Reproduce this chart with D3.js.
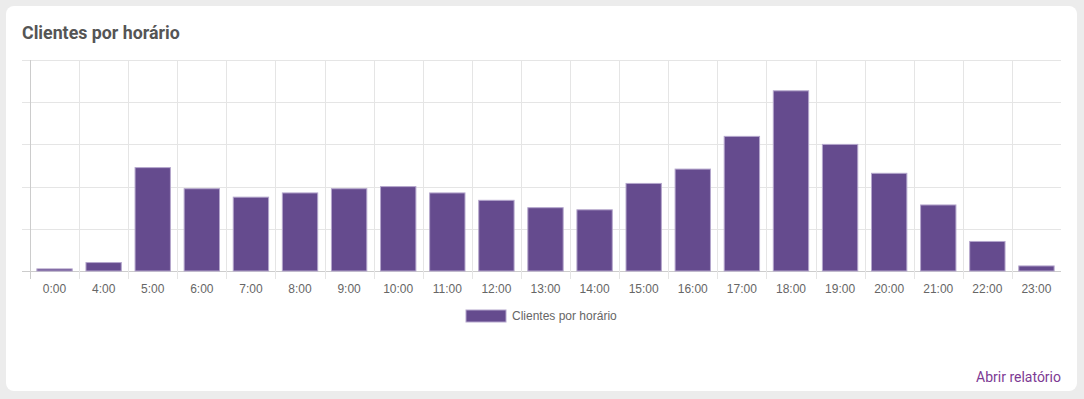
<!doctype html>
<html lang="pt">
<head>
<meta charset="utf-8">
<title>Clientes por horário</title>
<script src="https://cdn.jsdelivr.net/npm/d3@7"></script>
<style>
  html, body { margin: 0; padding: 0; background: #ececec; }
  svg { display: block; font-family: Roboto, "Liberation Sans", Arial, sans-serif; }
  .chart-text { font-family: "Liberation Sans", Arial, Helvetica, sans-serif; }
</style>
</head>
<body>
<svg></svg>
<script>
  var width = 1084;
  var height = 399;

  var hours = ['0:00', '4:00', '5:00', '6:00', '7:00', '8:00', '9:00', '10:00', '11:00', '12:00',
    '13:00', '14:00', '15:00', '16:00', '17:00', '18:00', '19:00', '20:00', '21:00', '22:00', '23:00'];
  var clientes = [1, 4, 49, 39, 35, 37, 39, 40, 37, 33.5, 30, 29, 41.5, 48.3, 63.8, 85.4, 60, 46.3, 31.3, 14, 2.4];
  var yTicks = [0, 20, 40, 60, 80, 100];

  var plotLeft = 30, plotRight = 1061, plotTop = 60, plotBottom = 271;

  var svg = d3.select('svg').attr('width', width).attr('height', height);

  // card
  svg.append('rect')
    .attr('x', 6).attr('y', 6)
    .attr('width', 1071).attr('height', 385)
    .attr('rx', 8)
    .attr('fill', '#ffffff');

  svg.append('text')
    .attr('x', 22).attr('y', 39)
    .attr('font-size', '17.8px')
    .attr('font-weight', 'bold')
    .attr('fill', '#555555')
    .text('Clientes por horário');

  var x = d3.scaleBand().domain(hours).range([plotLeft, plotRight]);
  var y = d3.scaleLinear().domain([0, 100]).range([plotBottom, plotTop]);

  // horizontal grid
  svg.append('g').selectAll('line')
    .data(yTicks)
    .enter()
    .append('line')
    .attr('x1', plotLeft - 8).attr('x2', plotRight)
    .attr('y1', function (d) { return Math.round(y(d)) + 0.5; })
    .attr('y2', function (d) { return Math.round(y(d)) + 0.5; })
    .attr('stroke', function (d) { return d === 0 ? '#cccccc' : '#e5e5e5'; });

  // vertical grid
  svg.append('g').selectAll('line')
    .data(hours)
    .enter()
    .append('line')
    .attr('x1', function (d) { return Math.round(x(d)) + 0.5; })
    .attr('x2', function (d) { return Math.round(x(d)) + 0.5; })
    .attr('y1', plotTop).attr('y2', plotBottom + 8)
    .attr('stroke', function (d, i) { return i === 0 ? '#cccccc' : '#e5e5e5'; });

  // bars
  var barW = x.bandwidth() * 0.72;
  svg.append('g').selectAll('rect')
    .data(clientes)
    .enter()
    .append('rect')
    .attr('x', function (d, i) { return x(hours[i]) + (x.bandwidth() - barW) / 2; })
    .attr('y', function (d) { return y(d); })
    .attr('width', barW)
    .attr('height', function (d) { return plotBottom - y(d); })
    .attr('fill', '#654b8e')
    .attr('stroke', '#b4a6cc')
    .attr('stroke-width', 1);

  // x axis labels
  svg.append('g').selectAll('text')
    .data(hours)
    .enter()
    .append('text')
    .attr('class', 'chart-text')
    .attr('x', function (d) { return x(d) + x.bandwidth() / 2; })
    .attr('y', 293)
    .attr('text-anchor', 'middle')
    .attr('font-size', '12px')
    .attr('fill', '#666666')
    .text(function (d) { return d; });

  // legend
  svg.append('rect')
    .attr('x', 466).attr('y', 310)
    .attr('width', 40).attr('height', 12)
    .attr('fill', '#654b8e')
    .attr('stroke', '#b4a6cc');
  svg.append('text')
    .attr('class', 'chart-text')
    .attr('x', 512).attr('y', 320)
    .attr('font-size', '12px')
    .attr('fill', '#666666')
    .text('Clientes por horário');

  svg.append('text')
    .attr('x', 1061).attr('y', 382)
    .attr('text-anchor', 'end')
    .attr('font-size', '14px')
    .attr('fill', '#7d3a94')
    .text('Abrir relatório');
</script>
</body>
</html>
